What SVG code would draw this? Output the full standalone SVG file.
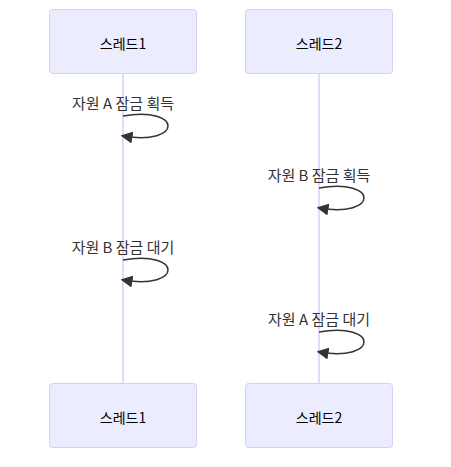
<svg xmlns="http://www.w3.org/2000/svg" width="451" height="467" viewBox="0 0 451 467">
<defs>
<style>
.actor{fill:#ECECFF;stroke:#DACEF2;stroke-width:1}
.atext{font-family:"Noto Sans CJK KR","Liberation Sans",sans-serif;font-size:14px;fill:#000;text-anchor:middle;dominant-baseline:central}
.life{stroke:#DACEF2;stroke-width:1.5}
.msg{font-family:"Noto Sans CJK KR","Liberation Sans",sans-serif;font-size:15px;fill:#333;text-anchor:middle;dominant-baseline:central}
.loop{fill:none;stroke:#333;stroke-width:1.5}
</style>
<marker id="arrow" viewBox="0 0 10 10" refX="7.9" refY="5" markerWidth="12" markerHeight="12" markerUnits="userSpaceOnUse" orient="auto">
<path d="M0,0 L10,5 L0,10 z" fill="#333"/>
</marker>
</defs>
<g id="lifelines">
<line class="life" x1="123" y1="73" x2="123" y2="384"/>
<line class="life" x1="319" y1="73" x2="319" y2="384"/>
</g>
<g id="actor-1-top"><rect class="actor" x="49.5" y="9.5" width="147" height="64" rx="3"/><text class="atext" x="123" y="43">스레드1</text></g>
<g id="actor-2-top"><rect class="actor" x="245.5" y="9.5" width="147" height="64" rx="3"/><text class="atext" x="319" y="43">스레드2</text></g>
<g id="actor-1-bottom"><rect class="actor" x="49.5" y="383.5" width="147" height="64" rx="3"/><text class="atext" x="123" y="416.5">스레드1</text></g>
<g id="actor-2-bottom"><rect class="actor" x="245.5" y="383.5" width="147" height="64" rx="3"/><text class="atext" x="319" y="416.5">스레드2</text></g>
<g id="connectors">
<path class="loop" d="M123,116 C183,106 183,146 123,136" marker-end="url(#arrow)"/>
<path class="loop" d="M319,188 C379,178 379,218 319,208" marker-end="url(#arrow)"/>
<path class="loop" d="M123,260 C183,250 183,290 123,280" marker-end="url(#arrow)"/>
<path class="loop" d="M319,332 C379,322 379,362 319,352" marker-end="url(#arrow)"/>
</g>
<g id="labels">
<text class="msg" x="123" y="102">자원 A 잠금 획득</text>
<text class="msg" x="319" y="174">자원 B 잠금 획득</text>
<text class="msg" x="123" y="246">자원 B 잠금 대기</text>
<text class="msg" x="319" y="318">자원 A 잠금 대기</text>
</g>
</svg>
